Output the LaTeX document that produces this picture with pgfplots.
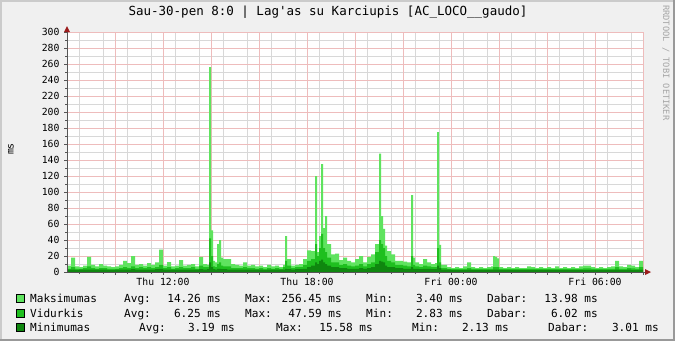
\documentclass[border=0pt]{standalone}
\usepackage{pgfplots}
\pgfplotsset{compat=1.18}
\usepackage{pgfplotstable}
\usepackage{fontspec}
\setmonofont{DejaVu Sans Mono}
\renewcommand{\familydefault}{\ttdefault}
\definecolor{bgc}{HTML}{F0F0F0}
\definecolor{shA}{HTML}{CBCBCB}
\definecolor{shB}{HTML}{999999}
\definecolor{cmax}{HTML}{5FE35F}
\definecolor{cavg}{HTML}{1FBF1F}
\definecolor{cmin}{HTML}{0F870F}
\definecolor{mgrid}{HTML}{EEBCBC}
\definecolor{ngrid}{HTML}{D8D8D8}
\definecolor{axc}{HTML}{555555}
\definecolor{arrc}{HTML}{9B1C1C}
\pgfplotstableread{
t mx av mn
480 8 4 3
490 18 6 3
500 7 4 2.5
510 6 4 3
520 8 5 3
530 19 7 3
540 9 5 3
550 7 4 3
560 10 5 3
570 8 5 3
580 7 4 2.5
590 6 4 2.5
600 7 4 3
610 9 5 3
620 14 6 3
630 11 5 3
640 20 7 3.5
650 9 5 3
660 10 6 3
670 8 5 3
680 11 6 3
690 9 5 3
700 12 6 3.5
710 28 9 4
720 8 5 3
730 12.5 6 3
740 7 4 3
750 8 5 3
760 15 6 3
770 8 5 3
780 9 5 3
790 10 6 3
800 7 4 3
810 19 8 3.5
820 10 6 3
830 9 6 3.5
835 256 42 12
840 52 20 6
845 14 7 3.5
850 12 6 3
855 35 10 4
860 40 12 4
865 18 8 3.5
870 16 7 3.5
880 16 7 3
890 10 5 3
900 9 5 3
910 8 5 3
920 12 6 3
930 8 5 3
940 9 5 3
950 7 4 3
960 8 5 3
970 6 4 2.5
980 9 5 3
990 7 4 3
1000 8 5 3
1010 6 4 3
1020 9 6 3
1025 45 14 4
1030 16 8 3.5
1040 8 5 3
1050 9 6 3.5
1060 10 6 3.5
1070 16 9 4
1080 27 14 6
1090 26 16 8
1100 120 35 12
1105 25 20 10
1110 45 30 14
1115 135 47.59 15.58
1120 55 30 12
1125 70 25 10
1130 35 18 8
1140 22 12 6
1150 23 12 6
1160 15 9 5
1170 18 10 5
1180 14 8 4
1190 12 7 4
1200 16 8 4
1210 20 10 5
1220 12 7 4
1230 19 10 5
1240 22 12 6
1250 35 25 10
1260 148 40 14
1265 70 35 13
1270 54 30 12
1275 33 20 8
1280 26 14 6
1290 22 12 6
1300 14 9 5
1310 14 9 5
1320 13 8 4
1330 12 7 4
1340 96 20 6
1345 18 9 4
1350 12 7 4
1360 10 6 3.5
1370 16 8 4
1380 12 7 4
1390 10 6 3.5
1400 11 6 3.5
1405 175 30 8
1410 34 12 5
1415 9 5 3
1420 9 5 3
1430 6 4 3
1440 5 3.5 2.5
1450 6 4 2.5
1460 5 3.5 2.5
1470 7 4 2.5
1480 12 5 3
1490 6 4 2.5
1500 5 3.5 2.5
1510 6 4 2.5
1520 5 3.5 2.5
1530 6 4 2.5
1540 7 4 2.5
1545 20 6 3
1550 19 6 3
1555 17 6 3
1560 6 4 2.5
1570 5 3.5 2.5
1580 6 4 2.5
1590 5 3.5 2.5
1600 6 4 2.5
1610 5 3.5 2.5
1620 5 3.5 2.5
1630 7 4 2.5
1640 6 4 2.5
1650 5 3.5 2.5
1660 6 4 2.5
1670 5 3.5 2.5
1680 6 4 2.5
1690 5 3.5 2.5
1700 7 4 2.5
1710 5 3.5 2.5
1720 6 4 2.5
1730 5 3.5 2.5
1740 6 4 2.5
1750 5 3.5 2.5
1760 7 4 2.5
1770 8 4.5 2.5
1780 8 4.5 2.5
1790 6 4 2.5
1800 5 3.5 2.5
1810 6 4 2.5
1820 5 3.5 2.5
1830 6 4 2.5
1840 7 4 2.5
1850 14 6 3
1860 7 4 2.5
1870 6 4 2.5
1880 9 5 3
1890 8 4.5 2.5
1900 6 4 2.5
1910 14 6 3
1920 14 6 3
}\data
\newcommand{\lt}[3]{\node[anchor=base west,inner sep=0pt,font=\fontsize{11.1}{13}\selectfont] at (#1pt,-#2pt) {#3};}
\newcommand{\rt}[3]{\node[anchor=base east,inner sep=0pt,font=\fontsize{11.1}{13}\selectfont] at (#1pt,-#2pt) {#3};}
\begin{document}
\begin{tikzpicture}[x=1pt,y=1pt]
\fill[bgc] (0,0) rectangle (675,-341);
\fill[shA] (0,0) rectangle (675,-2);
\fill[shA] (0,0) rectangle (2,-341);
\fill[shB] (0,-339) rectangle (675,-341);
\fill[shB] (673,0) rectangle (675,-341);
\begin{axis}[
  at={(67pt,-272pt)}, anchor=south west,
  scale only axis, width=576pt, height=240pt,
  xmin=480, xmax=1920, ymin=0, ymax=300,
  axis background/.style={fill=white},
  axis x line*=bottom, axis y line*=left,
  axis line style={draw=none},
  xtick={600,720,...,1920},
  xticklabels={,Thu 12:00,,,Thu 18:00,,,Fri 00:00,,,Fri 06:00,},
  minor xtick={510,570,...,1890},
  ytick={0,20,...,300},
  minor ytick={10,30,...,290},
  tick align=outside,
  major tick length=3pt, minor tick length=2pt,
  tick style={line width=0.8pt, color=axc},
  /pgf/number format/assume math mode=true,
  ticklabel style={font=\fontsize{9.8}{11}\selectfont},
  yticklabel style={xshift=-1pt},
  clip=false,
]
\pgfplotsinvokeforeach{510,570,...,1890}{\draw[ngrid, line width=0.9pt] (axis cs:#1,0) -- (axis cs:#1,300);}
\pgfplotsinvokeforeach{10,30,...,290}{\draw[ngrid, line width=0.9pt] (axis cs:480,#1) -- (axis cs:1920,#1);}
\pgfplotsinvokeforeach{600,720,...,1920}{\draw[mgrid, line width=0.9pt] (axis cs:#1,0) -- (axis cs:#1,300);}
\pgfplotsinvokeforeach{20,40,...,300}{\draw[mgrid, line width=0.9pt] (axis cs:480,#1) -- (axis cs:1920,#1);}
\addplot[const plot, fill=cmax, draw=none] table[x=t,y=mx]{\data} \closedcycle;
\addplot[const plot, fill=cavg, draw=none] table[x=t,y=av]{\data} \closedcycle;
\addplot[const plot, fill=cmin, draw=none] table[x=t,y=mn]{\data} \closedcycle;
\draw[axc, line width=1pt] (rel axis cs:0,0) -- (rel axis cs:0,1);
\draw[axc, line width=1pt] (rel axis cs:0,0) -- (rel axis cs:1.004,0);
\end{axis}
\fill[arrc] (64,-32) -- (70,-32) -- (67,-26) -- cycle;
\fill[arrc] (645,-269) -- (645,-275) -- (651,-272) -- cycle;
\node[font=\fontsize{12.5}{14}\selectfont, inner sep=0pt] at (328,-12) {Sau-30-pen 8:0 | Lag'as su Karciupis [AC\_LOCO\_\_gaudo]};
\node[rotate=90, font=\fontsize{9.8}{11}\selectfont, inner sep=0pt] at (11,-149) {ms};
\node[rotate=-90, anchor=west, inner sep=0pt, text=black!35, font=\fontsize{8.7}{10}\selectfont] at (666,-5) {RRDTOOL / TOBI OETIKER};
% legend
\filldraw[fill=cmax, draw=black, line width=0.8pt] (16,-294) rectangle (24,-302);
\filldraw[fill=cavg, draw=black, line width=0.8pt] (16,-309) rectangle (24,-317);
\filldraw[fill=cmin, draw=black, line width=0.8pt] (16,-323) rectangle (24,-331);
\lt{30}{302}{Maksimumas}
\lt{124}{302}{Avg:}
\rt{221}{302}{14.26 ms}
\lt{245}{302}{Max:}
\rt{342}{302}{256.45 ms}
\lt{366}{302}{Min:}
\rt{463}{302}{3.40 ms}
\lt{487}{302}{Dabar:}
\rt{598}{302}{13.98 ms}
\lt{30}{317}{Vidurkis}
\lt{124}{317}{Avg:}
\rt{221}{317}{6.25 ms}
\lt{245}{317}{Max:}
\rt{342}{317}{47.59 ms}
\lt{366}{317}{Min:}
\rt{463}{317}{2.83 ms}
\lt{487}{317}{Dabar:}
\rt{598}{317}{6.02 ms}
\lt{30}{331}{Minimumas}
\lt{139}{331}{Avg:}
\rt{235}{331}{3.19 ms}
\lt{276}{331}{Max:}
\rt{373}{331}{15.58 ms}
\lt{412}{331}{Min:}
\rt{509}{331}{2.13 ms}
\lt{548}{331}{Dabar:}
\rt{659}{331}{3.01 ms}
\end{tikzpicture}
\end{document}
